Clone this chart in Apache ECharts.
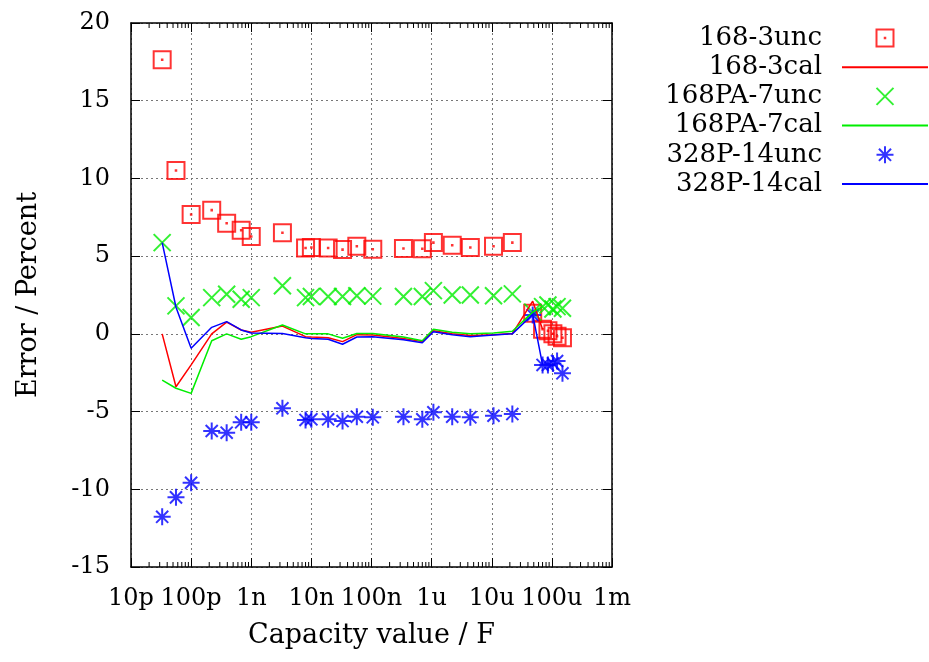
<!DOCTYPE html>
<html>
<head>
<meta charset="utf-8">
<script src="https://cdn.jsdelivr.net/npm/echarts@6/dist/echarts.min.js"></script>
<style>html,body{margin:0;padding:0;background:#fff}#c{width:929px;height:662px}</style>
</head>
<body>
<div id="c"></div>
<script>
// Capacity values (F)
const capacity = [3.3e-11, 5.6e-11, 1.0e-10, 2.2e-10, 3.9e-10, 6.8e-10, 1.0e-9, 3.3e-9, 8.0e-9, 1.0e-8, 1.9e-8, 3.3e-8, 5.7e-8, 1.05e-7, 3.4e-7, 7.0e-7, 1.07e-6, 2.2e-6, 4.4e-6, 1.07e-5, 2.2e-5, 4.8e-5, 7.0e-5, 8.6e-5, 1.04e-4, 1.22e-4, 1.5e-4];
const unc168_3   = [17.64, 10.51, 7.68, 7.96, 7.12, 6.67, 6.26, 6.5, 5.53, 5.55, 5.53, 5.42, 5.64, 5.45, 5.49, 5.47, 5.87, 5.70, 5.55, 5.64, 5.87, 1.33, 0.3, 0.2, 0.0, -0.15, -0.25];
const cal168_3   = [0.0, -3.4, -2.0, 0.0, 0.75, 0.25, 0.1, 0.5, -0.18, -0.2, -0.25, -0.5, -0.05, -0.08, -0.3, -0.5, 0.2, 0.0, -0.1, -0.05, 0.02, 2.1, 0.3, null, null, null, null];
const unc168PA_7 = [5.87, 1.8, 1.05, 2.33, 2.55, 2.23, 2.33, 3.1, 2.33, 2.4, 2.4, 2.4, 2.45, 2.43, 2.4, 2.4, 2.78, 2.5, 2.5, 2.45, 2.57, 1.4, 1.75, 1.86, 1.6, 1.75, 1.65];
const cal168PA_7 = [-2.97, -3.5, -3.83, -0.44, 0.0, -0.35, -0.18, 0.57, 0.0, 0.0, 0.0, -0.28, 0.02, 0.02, -0.2, -0.45, 0.3, 0.1, 0.0, 0.05, 0.17, 1.4, 1.75, null, null, null, null];
const unc328P_14 = [-11.77, -10.52, -9.58, -6.25, -6.36, -5.69, -5.69, -4.79, -5.54, -5.5, -5.5, -5.61, -5.33, -5.37, -5.33, -5.5, -5.05, -5.33, -5.37, -5.27, -5.16, 1.22, -2.0, -2.0, -1.9, -1.75, -2.54];
const cal328P_14 = [5.87, 1.71, -0.93, 0.42, 0.79, 0.25, 0.05, 0.02, -0.25, -0.3, -0.35, -0.67, -0.2, -0.18, -0.38, -0.57, 0.14, -0.05, -0.18, -0.08, 0.0, 1.25, -2.0, null, null, null, null];

const xTickLabels = ['10p', '100p', '1n', '10n', '100n', '1u', '10u', '100u', '1m'];
const yTicks = [-15, -10, -5, 0, 5, 10, 15, 20];

const FONT = 'DejaVu Serif';
const RED = '#ff0000', GREEN = '#00ee00', BLUE = '#0000ff';

function pairs(ys) {
  const out = [];
  ys.forEach((y, i) => { if (y !== null) out.push([capacity[i], y]); });
  return out;
}

const minorTicks = [];
for (let d = -11; d < -3; d++) for (let m = 2; m <= 9; m++) minorTicks.push([m * Math.pow(10, d), 0]);

const SQUARE = 'path://M0,0H16V16H0Z M7.75,7.75H8.25V8.25H7.75Z';
const CROSS = 'path://M0,0L16,16M16,0L0,16';
const STAR = 'path://M8,0L8,16M0,8L16,8M2.3,2.3L13.7,13.7M13.7,2.3L2.3,13.7';

const xLabel = v => {
  const e = Math.round(Math.log10(v));
  return xTickLabels[e + 11] || '';
};

const baseX = {
  type: 'log', logBase: 10, min: 1e-11, max: 1e-3,
  axisLine: { show: true, onZero: false, lineStyle: { color: '#000', width: 1.5 } },
  axisTick: { show: true, inside: true, length: 9, lineStyle: { color: '#000', width: 1 } },
  minorTick: { show: false },
};
const baseY = {
  type: 'value', min: yTicks[0], max: yTicks[yTicks.length - 1], interval: 5,
  axisLine: { show: true, onZero: false, lineStyle: { color: '#000', width: 1.5 } },
  axisTick: { show: true, inside: true, length: 9, lineStyle: { color: '#000', width: 1 } },
};

const hideSym = { opacity: 0 };

const chart = echarts.init(document.getElementById('c'), null, { renderer: 'canvas' });
chart.setOption({
  animation: false,
  backgroundColor: '#fff',
  grid: { left: 131, right: 317, top: 23, bottom: 95, containLabel: false },
  legend: {
    data: [
      { name: '168-3unc' },
      { name: '168-3cal', itemStyle: hideSym },
      { name: '168PA-7unc' },
      { name: '168PA-7cal', itemStyle: hideSym },
      { name: '328P-14unc' },
      { name: '328P-14cal', itemStyle: hideSym }
    ],
    orient: 'vertical', right: 0, top: 25, align: 'right', padding: 0,
    itemWidth: 86, itemHeight: 17, itemGap: 3.2,
    textStyle: { fontFamily: FONT, fontSize: 26, color: '#000', padding: [0, 15, 0, 0] },
    selectedMode: false
  },
  xAxis: [
    Object.assign({}, baseX, {
      position: 'bottom',
      name: 'Capacity value / F', nameLocation: 'middle', nameGap: 55,
      nameTextStyle: { fontFamily: FONT, fontSize: 27, color: '#000' },
      axisLabel: { show: true, margin: 20, fontFamily: FONT, fontSize: 24, color: '#000', formatter: xLabel },
      splitLine: { show: true, lineStyle: { color: '#777', width: 1, type: [2, 3] } }
    }),
    Object.assign({}, baseX, { position: 'top', axisLabel: { show: false }, splitLine: { show: false } })
  ],
  yAxis: [
    Object.assign({}, baseY, {
      position: 'left',
      name: 'Error / Percent', nameLocation: 'middle', nameGap: 89,
      nameTextStyle: { fontFamily: FONT, fontSize: 27, color: '#000' },
      axisLabel: { show: true, margin: 21, fontFamily: FONT, fontSize: 24, color: '#000' },
      splitLine: { show: true, lineStyle: { color: '#777', width: 1, type: [2, 3] } }
    }),
    Object.assign({}, baseY, { position: 'right', axisLabel: { show: false }, splitLine: { show: false } })
  ],
  series: [
    {
      name: 'minor', type: 'custom', xAxisIndex: 0, yAxisIndex: 0, silent: true, z: 1,
      data: minorTicks,
      renderItem: function (params, api) {
        const v = api.value(0);
        const b = api.coord([v, yTicks[0]]);
        const t = api.coord([v, yTicks[yTicks.length - 1]]);
        return {
          type: 'group', children: [
            { type: 'line', shape: { x1: b[0], y1: b[1], x2: b[0], y2: b[1] - 5 }, style: { stroke: '#000', lineWidth: 1 } },
            { type: 'line', shape: { x1: t[0], y1: t[1], x2: t[0], y2: t[1] + 5 }, style: { stroke: '#000', lineWidth: 1 } }
          ]
        };
      }
    },
    {
      name: '168-3unc', type: 'scatter', data: pairs(unc168_3),
      symbol: SQUARE, symbolSize: 17,
      itemStyle: { color: 'rgba(0,0,0,0)', borderColor: RED, borderWidth: 2 }
    },
    {
      name: '168-3cal', type: 'line', data: pairs(cal168_3), symbol: 'none',
      lineStyle: { color: RED, width: 1.5 }, itemStyle: { color: RED }
    },
    {
      name: '168PA-7unc', type: 'scatter', data: pairs(unc168PA_7),
      symbol: CROSS, symbolSize: 17,
      itemStyle: { color: 'rgba(0,0,0,0)', borderColor: GREEN, borderWidth: 2 }
    },
    {
      name: '168PA-7cal', type: 'line', data: pairs(cal168PA_7), symbol: 'none',
      lineStyle: { color: GREEN, width: 1.5 }, itemStyle: { color: GREEN }
    },
    {
      name: '328P-14unc', type: 'scatter', data: pairs(unc328P_14),
      symbol: STAR, symbolSize: 17,
      itemStyle: { color: 'rgba(0,0,0,0)', borderColor: BLUE, borderWidth: 2 }
    },
    {
      name: '328P-14cal', type: 'line', data: pairs(cal328P_14), symbol: 'none',
      lineStyle: { color: BLUE, width: 1.5 }, itemStyle: { color: BLUE }
    }
  ]
});
</script>
</body>
</html>
